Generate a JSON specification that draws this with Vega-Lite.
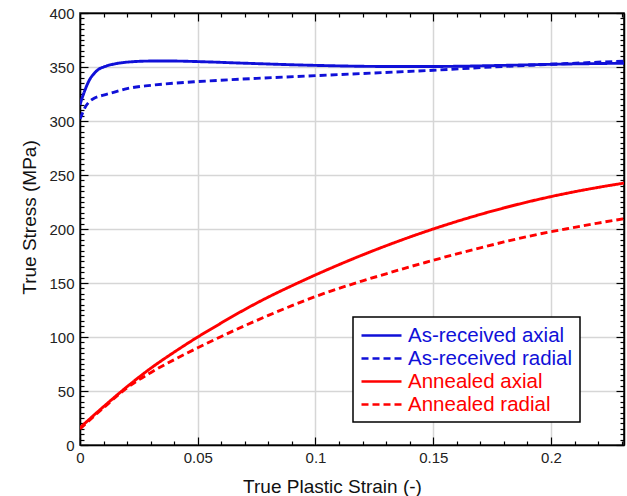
{
  "$schema": "https://vega.github.io/schema/vega-lite/v6.json",
  "width": 544,
  "height": 432,
  "autosize": "none",
  "padding": {"left": 80, "top": 13, "right": 3, "bottom": 51},
  "background": "white",
  "config": {
    "view": {"stroke": "black", "strokeWidth": 1.5},
    "font": "Liberation Sans",
    "axis": {"domainColor": "black", "domainWidth": 1.5, "tickColor": "black", "tickWidth": 1.2}
  },
  "data": {"values": [
    {"series": "As-received axial", "strain": 0, "stress": 315},
    {"series": "As-received axial", "strain": 0.001, "stress": 322},
    {"series": "As-received axial", "strain": 0.002, "stress": 328},
    {"series": "As-received axial", "strain": 0.004, "stress": 338},
    {"series": "As-received axial", "strain": 0.006, "stress": 344},
    {"series": "As-received axial", "strain": 0.008, "stress": 348},
    {"series": "As-received axial", "strain": 0.01, "stress": 350},
    {"series": "As-received axial", "strain": 0.015, "stress": 353},
    {"series": "As-received axial", "strain": 0.02, "stress": 354.5},
    {"series": "As-received axial", "strain": 0.03, "stress": 355.5},
    {"series": "As-received axial", "strain": 0.04, "stress": 355.5},
    {"series": "As-received axial", "strain": 0.05, "stress": 355},
    {"series": "As-received axial", "strain": 0.07, "stress": 353.5},
    {"series": "As-received axial", "strain": 0.1, "stress": 351.5},
    {"series": "As-received axial", "strain": 0.13, "stress": 350.5},
    {"series": "As-received axial", "strain": 0.15, "stress": 350.5},
    {"series": "As-received axial", "strain": 0.18, "stress": 351.5},
    {"series": "As-received axial", "strain": 0.2, "stress": 352.5},
    {"series": "As-received axial", "strain": 0.231, "stress": 353.5},
    {"series": "As-received radial", "strain": 0, "stress": 302},
    {"series": "As-received radial", "strain": 0.001, "stress": 307},
    {"series": "As-received radial", "strain": 0.002, "stress": 312},
    {"series": "As-received radial", "strain": 0.004, "stress": 318},
    {"series": "As-received radial", "strain": 0.006, "stress": 321},
    {"series": "As-received radial", "strain": 0.01, "stress": 324},
    {"series": "As-received radial", "strain": 0.015, "stress": 327},
    {"series": "As-received radial", "strain": 0.02, "stress": 330},
    {"series": "As-received radial", "strain": 0.03, "stress": 333},
    {"series": "As-received radial", "strain": 0.04, "stress": 335},
    {"series": "As-received radial", "strain": 0.05, "stress": 336.5},
    {"series": "As-received radial", "strain": 0.075, "stress": 339.5},
    {"series": "As-received radial", "strain": 0.1, "stress": 342},
    {"series": "As-received radial", "strain": 0.125, "stress": 344.5},
    {"series": "As-received radial", "strain": 0.15, "stress": 347},
    {"series": "As-received radial", "strain": 0.175, "stress": 350},
    {"series": "As-received radial", "strain": 0.2, "stress": 352.5},
    {"series": "As-received radial", "strain": 0.231, "stress": 355.5},
    {"series": "Annealed axial", "strain": 0, "stress": 16},
    {"series": "Annealed axial", "strain": 0.01, "stress": 35.5},
    {"series": "Annealed axial", "strain": 0.02, "stress": 54},
    {"series": "Annealed axial", "strain": 0.03, "stress": 71},
    {"series": "Annealed axial", "strain": 0.04, "stress": 86},
    {"series": "Annealed axial", "strain": 0.05, "stress": 100},
    {"series": "Annealed axial", "strain": 0.06, "stress": 113},
    {"series": "Annealed axial", "strain": 0.07, "stress": 125.5},
    {"series": "Annealed axial", "strain": 0.08, "stress": 137},
    {"series": "Annealed axial", "strain": 0.09, "stress": 147.5},
    {"series": "Annealed axial", "strain": 0.1, "stress": 157.5},
    {"series": "Annealed axial", "strain": 0.11, "stress": 167},
    {"series": "Annealed axial", "strain": 0.12, "stress": 176},
    {"series": "Annealed axial", "strain": 0.13, "stress": 184.5},
    {"series": "Annealed axial", "strain": 0.14, "stress": 192.5},
    {"series": "Annealed axial", "strain": 0.15, "stress": 200},
    {"series": "Annealed axial", "strain": 0.16, "stress": 207},
    {"series": "Annealed axial", "strain": 0.17, "stress": 213.5},
    {"series": "Annealed axial", "strain": 0.18, "stress": 219.5},
    {"series": "Annealed axial", "strain": 0.19, "stress": 225},
    {"series": "Annealed axial", "strain": 0.2, "stress": 230},
    {"series": "Annealed axial", "strain": 0.21, "stress": 234.5},
    {"series": "Annealed axial", "strain": 0.22, "stress": 238.5},
    {"series": "Annealed axial", "strain": 0.231, "stress": 242.5},
    {"series": "Annealed radial", "strain": 0, "stress": 15},
    {"series": "Annealed radial", "strain": 0.01, "stress": 34.5},
    {"series": "Annealed radial", "strain": 0.02, "stress": 53},
    {"series": "Annealed radial", "strain": 0.03, "stress": 67},
    {"series": "Annealed radial", "strain": 0.04, "stress": 79},
    {"series": "Annealed radial", "strain": 0.05, "stress": 90},
    {"series": "Annealed radial", "strain": 0.06, "stress": 100.5},
    {"series": "Annealed radial", "strain": 0.07, "stress": 110.5},
    {"series": "Annealed radial", "strain": 0.08, "stress": 120},
    {"series": "Annealed radial", "strain": 0.09, "stress": 129},
    {"series": "Annealed radial", "strain": 0.1, "stress": 137.5},
    {"series": "Annealed radial", "strain": 0.11, "stress": 145},
    {"series": "Annealed radial", "strain": 0.12, "stress": 152},
    {"series": "Annealed radial", "strain": 0.13, "stress": 158.5},
    {"series": "Annealed radial", "strain": 0.14, "stress": 165},
    {"series": "Annealed radial", "strain": 0.15, "stress": 171},
    {"series": "Annealed radial", "strain": 0.16, "stress": 177},
    {"series": "Annealed radial", "strain": 0.17, "stress": 182.5},
    {"series": "Annealed radial", "strain": 0.18, "stress": 188},
    {"series": "Annealed radial", "strain": 0.19, "stress": 193},
    {"series": "Annealed radial", "strain": 0.2, "stress": 197.5},
    {"series": "Annealed radial", "strain": 0.21, "stress": 201.5},
    {"series": "Annealed radial", "strain": 0.22, "stress": 205.5},
    {"series": "Annealed radial", "strain": 0.231, "stress": 209.5}
  ]},
  "resolve": {"axis": {"x": "independent", "y": "independent"}},
  "layer": [
    {
      "mark": {"type": "line", "strokeWidth": 2.9, "interpolate": "monotone", "clip": true},
      "encoding": {
        "x": {
          "field": "strain", "type": "quantitative",
          "scale": {"domain": [0, 0.231], "nice": false, "zero": false},
          "axis": {
            "orient": "bottom",
            "title": "True Plastic Strain (-)",
            "titleFont": "Liberation Sans", "titleFontSize": 19, "titleFontWeight": "normal", "titleColor": "#111",
            "titleX": 252, "titleY": 47, "titleAlign": "center", "titleBaseline": "alphabetic",
            "values": [0,0.01,0.02,0.03,0.04,0.05,0.06,0.07,0.08,0.09,0.1,0.11,0.12,0.13,0.14,0.15,0.16,0.17,0.18,0.19,0.2,0.21,0.22,0.23],
            "labelExpr": "abs(datum.value*20 - round(datum.value*20)) < 1e-6 ? format(datum.value, '~g') : ''",
            "labelFont": "Liberation Sans", "labelFontSize": 15, "labelColor": "#222", "labelPadding": 13,
            "labelFlush": false, "labelOverlap": false,
            "tickSize": {"condition": {"test": "abs(datum.value*20 - round(datum.value*20)) < 1e-6", "value": -8}, "value": -4},
            "grid": true,
            "gridColor": "#d6d6d6", "gridWidth": 1.5,
            "gridOpacity": {"condition": {"test": "abs(datum.value*20 - round(datum.value*20)) < 1e-6", "value": 1}, "value": 0}
          }
        },
        "y": {
          "field": "stress", "type": "quantitative",
          "scale": {"domain": [0, 400], "nice": false},
          "axis": {
            "orient": "left",
            "title": "True Stress (MPa)",
            "titleFont": "Liberation Sans", "titleFontSize": 19, "titleFontWeight": "normal", "titleColor": "#111",
            "titleX": -45, "titleY": 204, "titleAlign": "center", "titleAngle": -90, "titleBaseline": "alphabetic",
            "values": [0,5,10,15,20,25,30,35,40,45,50,55,60,65,70,75,80,85,90,95,100,105,110,115,120,125,130,135,140,145,150,155,160,165,170,175,180,185,190,195,200,205,210,215,220,225,230,235,240,245,250,255,260,265,270,275,280,285,290,295,300,305,310,315,320,325,330,335,340,345,350,355,360,365,370,375,380,385,390,395,400],
            "labelExpr": "datum.value % 50 == 0 ? format(datum.value, 'd') : ''",
            "labelFont": "Liberation Sans", "labelFontSize": 15, "labelColor": "#222", "labelPadding": 14,
            "labelFlush": false, "labelOverlap": false,
            "tickSize": {"condition": {"test": "datum.value % 50 == 0", "value": -8}, "value": -4},
            "grid": true,
            "gridColor": "#d6d6d6", "gridWidth": 1.5,
            "gridOpacity": {"condition": {"test": "datum.value % 50 == 0", "value": 1}, "value": 0}
          }
        },
        "color": {
          "field": "series", "type": "nominal",
          "scale": {"domain": ["As-received axial", "As-received radial", "Annealed axial", "Annealed radial"], "range": ["#1010d8", "#1010d8", "#ff0000", "#ff0000"]},
          "legend": {
            "title": null,
            "orient": "none", "legendX": 273, "legendY": 304,
            "fillColor": "white", "strokeColor": "black", "padding": 7,
            "symbolType": "M-1,0H3", "symbolSize": 400, "symbolStrokeWidth": 2.5,
            "labelFont": "Liberation Sans", "labelFontSize": 20.5, "labelOffset": 25, "rowPadding": 1,
            "labelLimit": 400,
            "encode": {
              "legend": {"update": {"strokeWidth": {"value": 1.5}}},
              "labels": {"update": {"fill": {"signal": "indexof(datum.value, 'As-received') >= 0 ? '#1010d8' : '#ff0000'"}}}
            }
          }
        },
        "strokeDash": {
          "field": "series", "type": "nominal",
          "scale": {"domain": ["As-received axial", "As-received radial", "Annealed axial", "Annealed radial"], "range": [[1, 0], [7, 4], [1, 0], [7, 4]]},
          "legend": null
        }
      }
    },
    {
      "mark": {"type": "point", "opacity": 0},
      "encoding": {
        "x": {
          "field": "strain", "type": "quantitative",
          "scale": {"domain": [0, 0.231], "nice": false, "zero": false},
          "axis": {
            "orient": "top", "title": null, "labels": false, "grid": false,
            "values": [0,0.01,0.02,0.03,0.04,0.05,0.06,0.07,0.08,0.09,0.1,0.11,0.12,0.13,0.14,0.15,0.16,0.17,0.18,0.19,0.2,0.21,0.22,0.23],
            "tickSize": {"condition": {"test": "abs(datum.value*20 - round(datum.value*20)) < 1e-6", "value": -8}, "value": -4}
          }
        },
        "y": {
          "field": "stress", "type": "quantitative",
          "scale": {"domain": [0, 400], "nice": false},
          "axis": {
            "orient": "right", "title": null, "labels": false, "grid": false,
            "values": [0,5,10,15,20,25,30,35,40,45,50,55,60,65,70,75,80,85,90,95,100,105,110,115,120,125,130,135,140,145,150,155,160,165,170,175,180,185,190,195,200,205,210,215,220,225,230,235,240,245,250,255,260,265,270,275,280,285,290,295,300,305,310,315,320,325,330,335,340,345,350,355,360,365,370,375,380,385,390,395,400],
            "tickSize": {"condition": {"test": "datum.value % 50 == 0", "value": -8}, "value": -4}
          }
        }
      }
    }
  ]
}
